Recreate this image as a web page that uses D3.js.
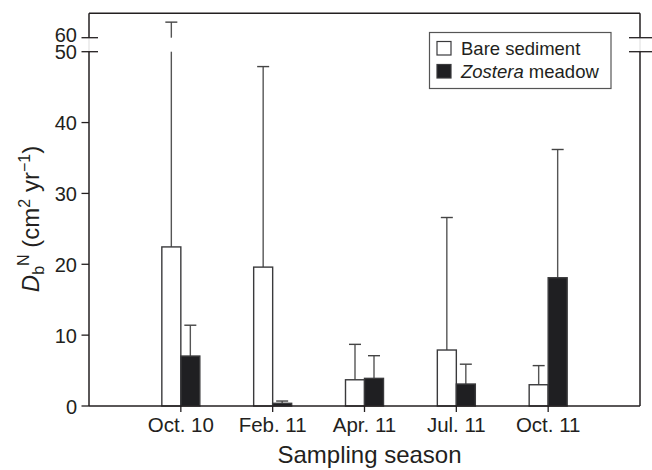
<!DOCTYPE html>
<html>
<head>
<meta charset="utf-8">
<script src="https://cdn.jsdelivr.net/npm/d3@7"></script>
<style>
  body { margin: 0; background: #fff; }
  svg text { font-family: "Liberation Sans", Arial, Helvetica, sans-serif; fill: #231f20; }
</style>
</head>
<body>
<div id="chart-container"></div>
<script>
// sampling seasons
const seasons = ["Oct. 10", "Feb. 11", "Apr. 11", "Jul. 11", "Oct. 11"];
// mean D_b^N and error (SD, drawn upward only)
const bareMean = [22.45, 19.6, 3.7, 7.9, 3.0];
const bareErr = [39.75, 28.3, 5.0, 18.7, 2.7];
const zosMean = [7.05, 0.38, 3.9, 3.1, 18.1];
const zosErr = [4.35, 0.32, 3.2, 2.8, 18.1];
const yTicks = [0, 10, 20, 30, 40, 50, 60];
const seriesKeys = ["bare", "zostera"];

function drawChart() {
    const left = 89, right = 640, top = 13.3, bottom = 406;
    const ink = "#231f20";

    const svg = d3.select("#chart-container")
        .append("svg")
        .attr("width", 652)
        .attr("height", 470);

    // broken y axis: 50..60 squeezed into the break
    const yScale = d3.scaleLinear()
        .domain([0, 50, 60, 63.45])
        .range([bottom, 51.7, 37.7, top]);

    const xScale = d3.scalePoint()
        .domain(seasons)
        .range([left, right])
        .padding(1);

    const inner = d3.scaleBand()
        .domain(seriesKeys)
        .range([-19, 19]);

    const rows = seasons.map((s, i) => ({
        season: s,
        bars: [
            { key: "bare", mean: bareMean[i], err: bareErr[i] },
            { key: "zostera", mean: zosMean[i], err: zosErr[i] }
        ]
    }));

    const groups = svg.append("g").selectAll("g")
        .data(rows)
        .join("g")
        .attr("transform", d => `translate(${xScale(d.season)},0)`);

    // error bars (upper only), split across the axis break
    groups.selectAll("g.err")
        .data(d => d.bars)
        .join("g")
        .attr("class", "err")
        .each(function(d) {
            const g = d3.select(this);
            const cx = inner(d.key) + inner.bandwidth() / 2;
            const hi = d.mean + d.err;
            const segs = hi > 50 ? [[d.mean, 50], [60, hi]] : [[d.mean, hi]];
            segs.forEach(s => {
                g.append("line")
                    .attr("x1", cx).attr("x2", cx)
                    .attr("y1", yScale(s[0])).attr("y2", yScale(s[1]))
                    .attr("stroke", "#555").attr("stroke-width", 1.4);
            });
            g.append("line")
                .attr("x1", cx - 6).attr("x2", cx + 6)
                .attr("y1", yScale(hi)).attr("y2", yScale(hi))
                .attr("stroke", "#444").attr("stroke-width", 1.4);
        });

    groups.selectAll("rect")
        .data(d => d.bars)
        .join("rect")
        .attr("x", d => inner(d.key))
        .attr("y", d => yScale(d.mean))
        .attr("width", inner.bandwidth())
        .attr("height", d => yScale(0) - yScale(d.mean))
        .attr("fill", d => d.key === "bare" ? "#fff" : "#1f1f22")
        .attr("stroke", "#3a3a3c")
        .attr("stroke-width", 1.4);

    // frame
    const frame = svg.append("g").attr("stroke", ink).attr("stroke-width", 1.5).attr("fill", "none");
    frame.append("line").attr("x1", left).attr("x2", right).attr("y1", top).attr("y2", top);
    frame.append("line").attr("x1", left).attr("x2", right).attr("y1", bottom).attr("y2", bottom);
    [left, right].forEach(x => {
        frame.append("line").attr("x1", x).attr("x2", x).attr("y1", top).attr("y2", yScale(60));
        frame.append("line").attr("x1", x).attr("x2", x).attr("y1", yScale(50)).attr("y2", bottom);
        frame.append("line").attr("x1", x).attr("x2", x).attr("y1", yScale(60)).attr("y2", yScale(50))
            .attr("stroke", "#ddd").attr("stroke-width", 1);
    });

    // y ticks
    const yAxis = svg.append("g");
    yTicks.forEach(t => {
        const isBreak = t >= 50;
        yAxis.append("line")
            .attr("x1", left - 7.5).attr("x2", isBreak ? left + 9 : left)
            .attr("y1", yScale(t)).attr("y2", yScale(t))
            .attr("stroke", ink).attr("stroke-width", 1.3);
        if (isBreak) {
            yAxis.append("line")
                .attr("x1", right - 11).attr("x2", right + 12)
                .attr("y1", yScale(t)).attr("y2", yScale(t))
                .attr("stroke", ink).attr("stroke-width", 1.3);
        }
        yAxis.append("text")
            .attr("x", left - 12)
            .attr("y", yScale(t) + (t === 60 ? 4 : 7.5))
            .attr("text-anchor", "end")
            .attr("font-size", 20)
            .text(t);
    });

    // x ticks
    const xAxis = svg.append("g");
    seasons.forEach(s => {
        xAxis.append("line")
            .attr("x1", xScale(s)).attr("x2", xScale(s))
            .attr("y1", bottom).attr("y2", bottom + 6)
            .attr("stroke", ink).attr("stroke-width", 1.3);
        xAxis.append("text")
            .attr("x", xScale(s))
            .attr("y", 432)
            .attr("text-anchor", "middle")
            .attr("font-size", 20.5)
            .text(s);
    });

    svg.append("text")
        .attr("x", (left + right) / 2 + 5)
        .attr("y", 463)
        .attr("text-anchor", "middle")
        .attr("font-size", 24)
        .text("Sampling season");

    // y title
    const yt = svg.append("text")
        .attr("transform", "translate(39,219) rotate(-90)")
        .attr("text-anchor", "middle")
        .attr("font-size", 24);
    yt.append("tspan").attr("font-style", "italic").text("D");
    yt.append("tspan").attr("font-size", 16).attr("dy", 5).text("b");
    yt.append("tspan").attr("font-size", 16).attr("dy", -15).text("N");
    yt.append("tspan").attr("dy", 10).text(" (cm");
    yt.append("tspan").attr("font-size", 16).attr("dy", -9).text("2");
    yt.append("tspan").attr("dy", 9).text(" yr");
    yt.append("tspan").attr("font-size", 16).attr("dy", -9).text("\u22121");
    yt.append("tspan").attr("dy", 9).text(")");

    // legend
    const lg = svg.append("g");
    lg.append("rect")
        .attr("x", 429.5).attr("y", 32.5)
        .attr("width", 181.5).attr("height", 56)
        .attr("fill", "#fff").attr("stroke", "#555").attr("stroke-width", 1.2);
    const items = [
        { key: "bare", label: "Bare sediment" },
        { key: "zostera", label: "meadow" }
    ];
    items.forEach((it, i) => {
        const y0 = 41.5 + i * 23;
        lg.append("rect")
            .attr("x", 437).attr("y", y0)
            .attr("width", 14).attr("height", 13.5)
            .attr("fill", it.key === "bare" ? "#fff" : "#1f1f22")
            .attr("stroke", "#3a3a3c").attr("stroke-width", 1.2);
        const t = lg.append("text")
            .attr("x", 461).attr("y", y0 + 13)
            .attr("font-size", 18.5);
        if (it.key === "zostera") {
            t.append("tspan").attr("font-style", "italic").text("Zostera");
            t.append("tspan").text(" " + it.label);
        } else {
            t.text(it.label);
        }
    });
}

drawChart();
</script>
</body>
</html>
